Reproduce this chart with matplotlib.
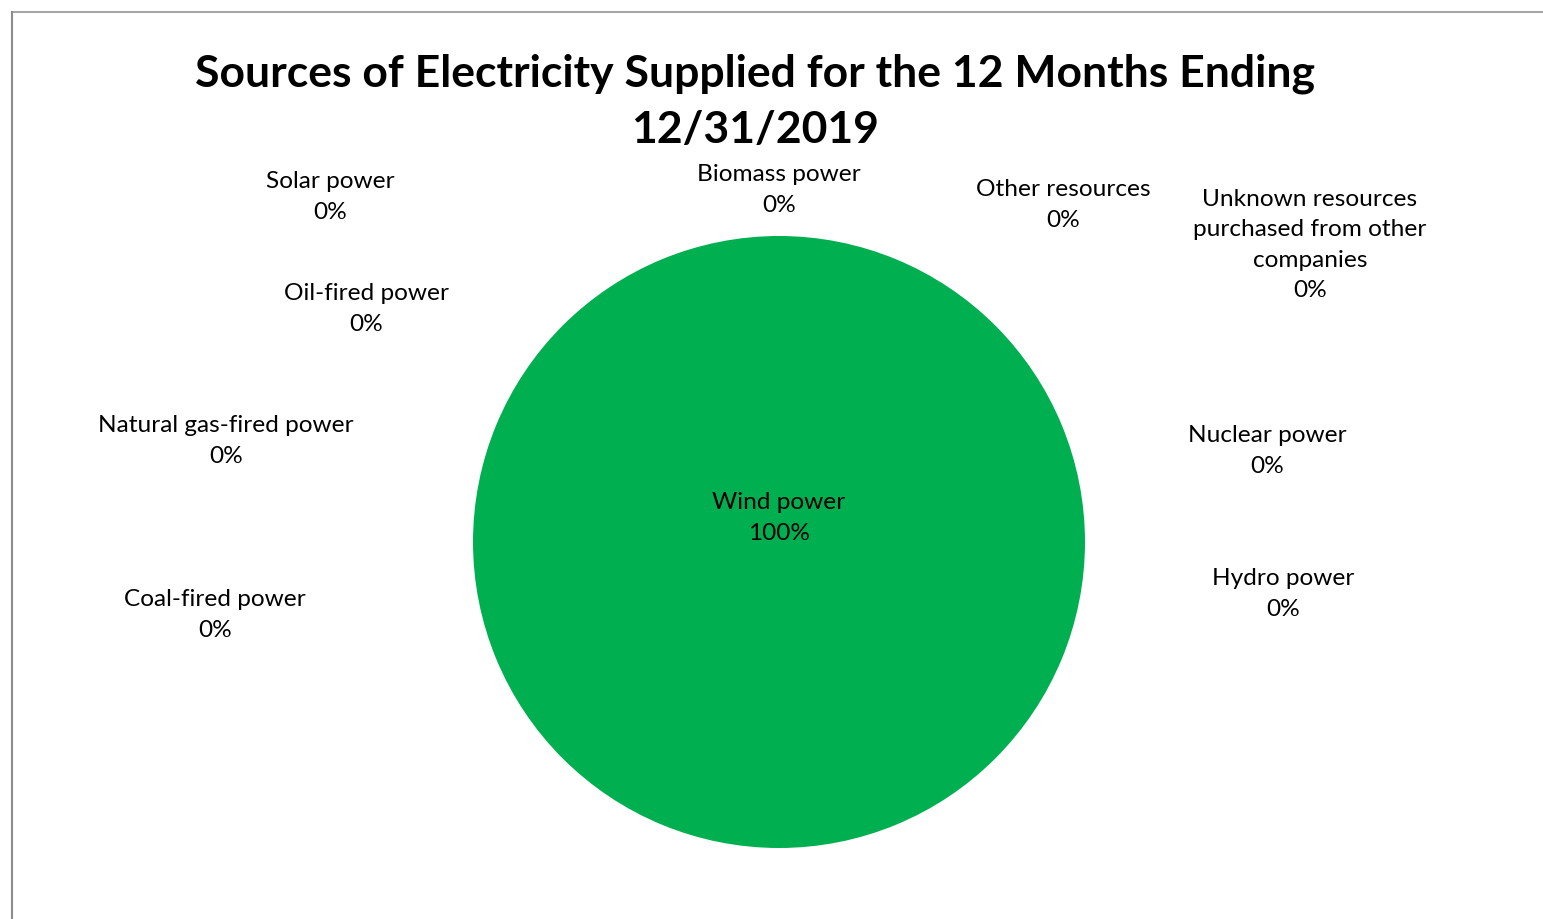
import matplotlib.pyplot as plt
from matplotlib.lines import Line2D

plt.rcParams["font.family"] = ["Lato", "DejaVu Sans"]

# pie data (share of electricity supplied, %)
sources = [
    "Coal-fired power",
    "Natural gas-fired power",
    "Oil-fired power",
    "Solar power",
    "Biomass power",
    "Other resources",
    "Unknown resources\npurchased from other\ncompanies",
    "Nuclear power",
    "Hydro power",
    "Wind power",
]
share = [0, 0, 0, 0, 0, 0, 0, 0, 0, 100]
colors = ["#4472C4", "#ED7D31", "#A5A5A5", "#FFC000", "#5B9BD5",
          "#70AD47", "#264478", "#9E480E", "#636363", "#00B050"]

# where each data label sits (pixel coords of the 1543x919 canvas)
label_xy = [(215, 615), (226, 441), (366, 309), (330, 197), (779, 190),
            (1063, 205), (1310, 245), (1267, 451), (1283, 594), (779, 518)]

W, H = 1543, 919
fig = plt.figure(figsize=(W / 100, H / 100), dpi=100)
ax = fig.add_axes([0, 0, 1, 1])

ax.pie(share, colors=colors, center=(779, 542), radius=306,
       startangle=90, counterclock=False,
       wedgeprops={"linewidth": 0})
ax.set_xlim(0, W)
ax.set_ylim(H, 0)
ax.set_aspect("equal")
ax.axis("off")

for name, val, (x, y) in zip(sources, share, label_xy):
    ax.text(x, y, f"{name}\n{val:.0f}%", ha="center", va="center",
            multialignment="center", fontsize=17.6, linespacing=1.53,
            color="#000000")

ax.text(755, 102, "Sources of Electricity Supplied for the 12 Months Ending\n12/31/2019",
        ha="center", va="center", fontsize=32, fontweight="bold",
        linespacing=1.48, color="#000000")

# chart area border (top and left edges visible)
fig.add_artist(Line2D([12 / W, 1], [1 - 12 / H, 1 - 12 / H], color="#a6a6a6", lw=1.5))
fig.add_artist(Line2D([12 / W, 12 / W], [0, 1 - 12 / H], color="#8c8c8c", lw=1.5))

fig.savefig("out.png", dpi=100)
